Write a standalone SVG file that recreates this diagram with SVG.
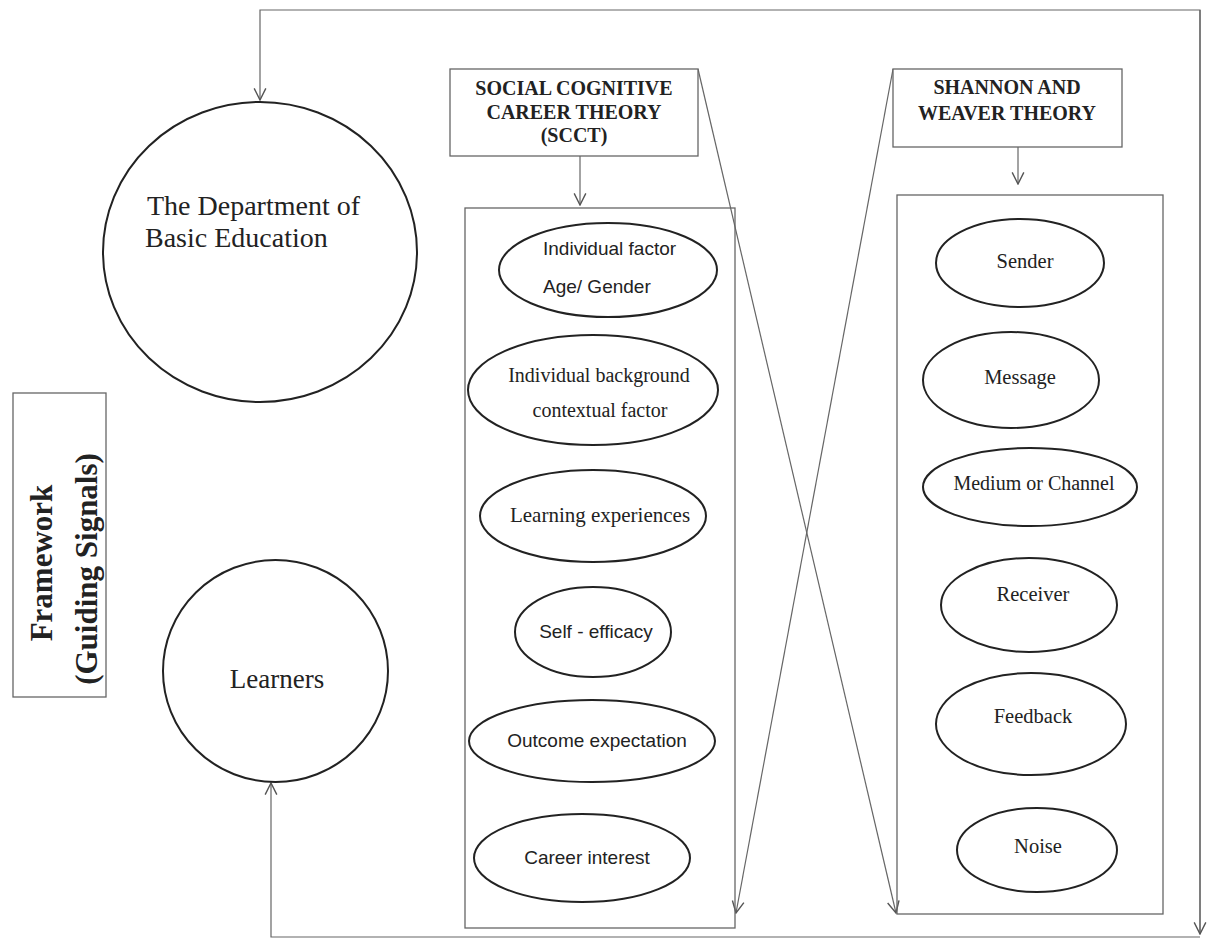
<svg xmlns="http://www.w3.org/2000/svg" width="1209" height="938" viewBox="0 0 1209 938">
<defs>
<style>
.box{fill:#fff;stroke:#666;stroke-width:1.3}
.cont{fill:none;stroke:#666;stroke-width:1.3}
.el{fill:#fff;stroke:#222;stroke-width:2}
.ln{fill:none;stroke:#666;stroke-width:1.2}
.serif{font-family:"Liberation Serif","Times New Roman",serif;fill:#222}
.sans{font-family:"Liberation Sans",Arial,sans-serif;fill:#222}
.title{font-family:"Liberation Serif","Times New Roman",serif;font-weight:bold;font-size:20px;fill:#222;text-anchor:middle}
.mid{text-anchor:middle}
</style>
<marker id="arr" viewBox="0 0 12 12" refX="11" refY="6" markerWidth="14" markerHeight="14" markerUnits="userSpaceOnUse" orient="auto">
<path d="M1,1 L11,6 L1,11" fill="none" stroke="#555" stroke-width="1.2"/>
</marker>
</defs>
<rect width="1209" height="938" fill="#fff"/>

<g id="connectors">
<polyline class="ln" points="1200,934 1200,10 260,10 260,100" marker-end="url(#arr)"/>
<line class="ln" x1="1200" y1="10" x2="1200" y2="934" marker-end="url(#arr)"/>
<polyline class="ln" points="1200,937 271,937 271,783" marker-end="url(#arr)"/>
<line class="ln" x1="580" y1="156" x2="580" y2="205" marker-end="url(#arr)"/>
<line class="ln" x1="1018" y1="147" x2="1018" y2="184" marker-end="url(#arr)"/>
<line class="ln" x1="698" y1="69" x2="896" y2="913" marker-end="url(#arr)"/>
<line class="ln" x1="893" y1="69" x2="736" y2="913" marker-end="url(#arr)"/>
</g>

<g id="dbe">
<ellipse class="el" cx="260" cy="252" rx="157" ry="150"/>
<text class="serif" font-size="28" x="147" y="215">The Department of</text>
<text class="serif" font-size="28" x="145" y="247">Basic Education</text>
</g>

<g id="framework">
<rect class="box" x="13" y="393" width="93" height="304"/>
<text class="serif mid" font-size="31" font-weight="bold" transform="translate(52,563) rotate(-90)">Framework</text>
<text class="serif mid" font-size="31" font-weight="bold" transform="translate(97,569) rotate(-90)">(Guiding Signals)</text>
</g>

<g id="learners">
<ellipse class="el" cx="275.5" cy="671" rx="112.5" ry="111"/>
<text class="serif mid" font-size="27" x="277" y="688">Learners</text>
</g>

<g id="scct-title">
<rect class="box" x="450" y="69" width="248" height="87"/>
<text class="title" x="574" y="95">SOCIAL COGNITIVE</text>
<text class="title" x="574" y="119">CAREER THEORY</text>
<text class="title" x="574" y="142">(SCCT)</text>
</g>

<g id="scct-container">
<rect class="cont" x="465" y="208" width="270" height="720"/>
</g>

<g id="individual-factor">
<ellipse class="el" cx="608" cy="270" rx="109" ry="47"/>
<text class="sans" font-size="19" x="543" y="255">Individual factor</text>
<text class="sans" font-size="19" x="543" y="293">Age/ Gender</text>
</g>

<g id="individual-background">
<ellipse class="el" cx="593" cy="390" rx="125" ry="55"/>
<text class="serif mid" font-size="20" x="599" y="382">Individual background</text>
<text class="serif mid" font-size="20" x="600" y="417">contextual factor</text>
</g>

<g id="learning-experiences">
<ellipse class="el" cx="593" cy="516" rx="113" ry="46"/>
<text class="serif mid" font-size="21" x="600" y="522">Learning experiences</text>
</g>

<g id="self-efficacy">
<ellipse class="el" cx="593" cy="632" rx="78" ry="45"/>
<text class="sans mid" font-size="19" x="596" y="638">Self - efficacy</text>
</g>

<g id="outcome-expectation">
<ellipse class="el" cx="592" cy="741" rx="123" ry="41"/>
<text class="sans mid" font-size="19" x="597" y="747">Outcome expectation</text>
</g>

<g id="career-interest">
<ellipse class="el" cx="582" cy="858" rx="108" ry="44"/>
<text class="sans mid" font-size="19" x="587" y="864">Career interest</text>
</g>

<g id="sw-title">
<rect class="box" x="893" y="69" width="229" height="78"/>
<text class="title" x="1007" y="94">SHANNON AND</text>
<text class="title" x="1007" y="120">WEAVER THEORY</text>
</g>

<g id="sw-container">
<rect class="cont" x="897" y="195" width="266" height="719"/>
</g>

<g id="sender">
<ellipse class="el" cx="1020" cy="263" rx="84" ry="44"/>
<text class="serif mid" font-size="20.5" x="1025" y="268">Sender</text>
</g>

<g id="message">
<ellipse class="el" cx="1011" cy="380" rx="88" ry="48"/>
<text class="serif mid" font-size="20.5" x="1020" y="384">Message</text>
</g>

<g id="medium">
<ellipse class="el" cx="1030" cy="487" rx="107" ry="39"/>
<text class="serif mid" font-size="20" x="1034" y="490">Medium or Channel</text>
</g>

<g id="receiver">
<ellipse class="el" cx="1029" cy="605" rx="88" ry="47"/>
<text class="serif mid" font-size="20.5" x="1033" y="601">Receiver</text>
</g>

<g id="feedback">
<ellipse class="el" cx="1031" cy="724" rx="95" ry="51"/>
<text class="serif mid" font-size="20.5" x="1033" y="723">Feedback</text>
</g>

<g id="noise">
<ellipse class="el" cx="1037" cy="850" rx="80" ry="42"/>
<text class="serif mid" font-size="20.5" x="1038" y="853">Noise</text>
</g>
</svg>
